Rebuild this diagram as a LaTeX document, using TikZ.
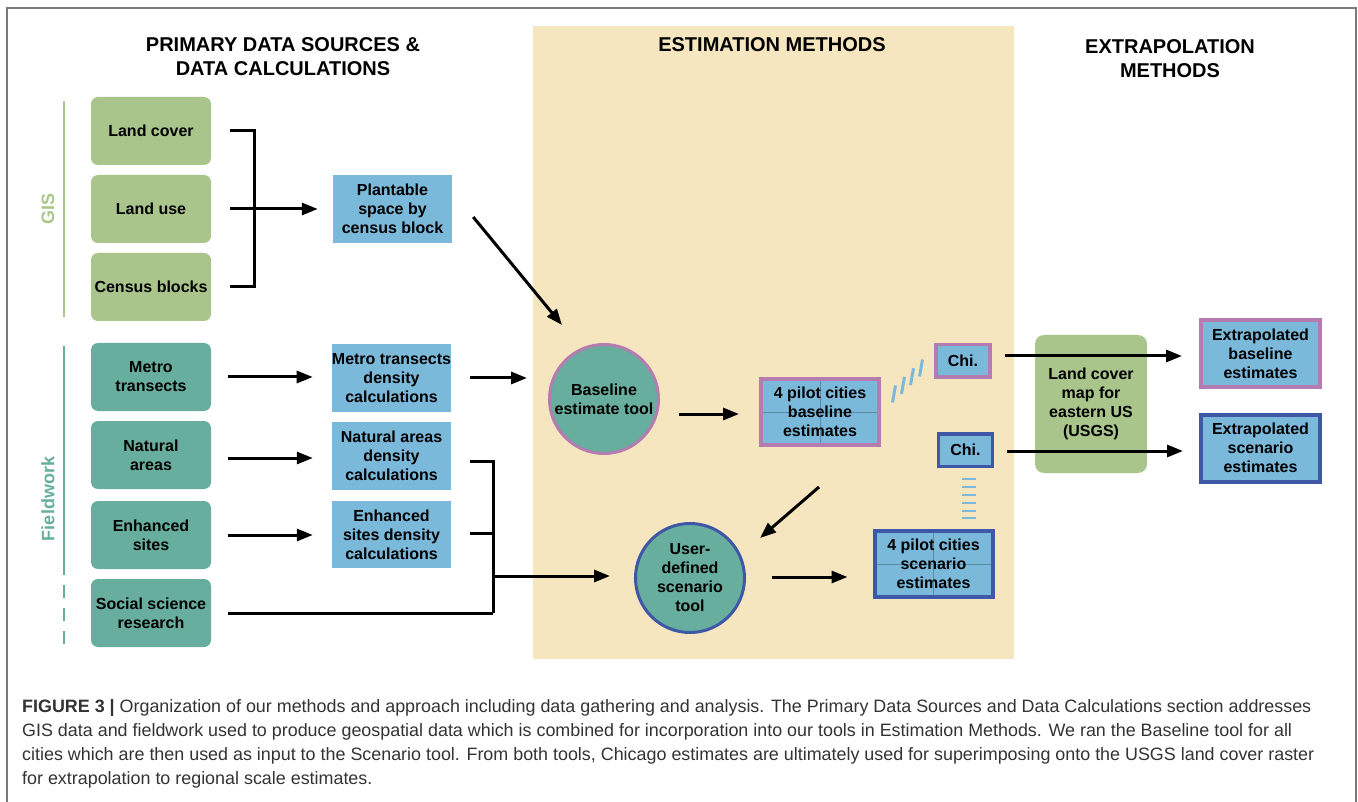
\documentclass[tikz,border=0pt]{standalone}
\usepackage{fontspec}
\setmainfont{Liberation Sans}
\usetikzlibrary{arrows.meta,calc}
\definecolor{gisgreen}{HTML}{A9C58B}
\definecolor{fteal}{HTML}{68AE9E}
\definecolor{sky}{HTML}{7BB9DB}
\definecolor{pinkb}{HTML}{B57CB1}
\definecolor{blueb}{HTML}{3E57A7}
\definecolor{beige}{HTML}{F6E6BF}
\definecolor{crossc}{HTML}{5F8AA3}
\definecolor{framec}{HTML}{7A7A7A}
\definecolor{capc}{HTML}{333333}
\newcommand{\myNodeFont}{\bfseries\fontsize{16}{19}\selectfont}
\newcommand{\myHeadFont}{\bfseries\fontsize{20}{24}\selectfont}
\newcommand{\myCapFont}{\fontsize{17.9}{24}\selectfont}
\tikzset{
  gbox/.style={rounded corners=7pt, fill=gisgreen, minimum width=120pt, minimum height=68pt, inner sep=0pt, align=center, font=\myNodeFont},
  tbox/.style={gbox, fill=fteal},
  bbox/.style={fill=sky, minimum width=119pt, minimum height=68pt, inner sep=0pt, align=center, font=\myNodeFont},
  crossed/.style={path picture={\draw[crossc, line width=1pt] (path picture bounding box.north) -- (path picture bounding box.south) (path picture bounding box.west) -- (path picture bounding box.east);}},
  pilot/.style={fill=sky, line width=4pt, minimum width=118pt, minimum height=66pt, inner sep=0pt, align=center, font=\myNodeFont, crossed},
  chibox/.style={fill=sky, line width=3.5pt, minimum width=54pt, minimum height=32.5pt, inner sep=0pt, align=center, font=\myNodeFont},
  exbox/.style={fill=sky, line width=4pt, minimum width=119pt, minimum height=67pt, inner sep=0pt, align=center, font=\myNodeFont},
  tool/.style={circle, fill=fteal, line width=3pt, minimum size=109pt, inner sep=0pt, align=center, font=\myNodeFont},
  heading/.style={align=center, font=\myHeadFont},
  conn/.style={line width=3pt, black},
  arr/.style={conn, -{Triangle[length=16pt,width=12pt]}},
  hatch/.style={sky, line width=3pt},
  captext/.style={anchor=base west, inner sep=0pt, font=\myCapFont, text=capc},
}
\begin{document}
\begin{tikzpicture}[x=1pt,y=-1pt]
\useasboundingbox (0,0) rectangle (1358,802);
\fill[white] (0,0) rectangle (1358,802);
\draw[framec, line width=1.5pt] (7,802) -- (7,8) -- (1356,8) -- (1356,802);
\fill[beige] (533,26) rectangle (1014,659);

% headings
\node[heading] (h1) at (283,57) {PRIMARY DATA SOURCES \&\\DATA CALCULATIONS};
\node[heading] (h2) at (772,45) {ESTIMATION METHODS};
\node[heading] (h3) at (1170,59) {EXTRAPOLATION\\METHODS};

% side labels
\draw[gisgreen, line width=2.5pt] (64,101) -- (64,317);
\node[rotate=90, text=gisgreen, font=\bfseries\fontsize{18}{20}\selectfont] (gisl) at (48,209) {GIS};
\draw[fteal, line width=2.5pt] (64,346) -- (64,575);
\draw[fteal, line width=2.5pt, dash pattern=on 13pt off 10pt] (64,585) -- (64,648);
\node[rotate=90, text=fteal, font=\bfseries\fontsize{18}{20}\selectfont] (fwl) at (48,499) {Fieldwork};

% GIS boxes
\node[gbox] (lc) at (151,131) {Land cover};
\node[gbox] (lu) at (151,209) {Land use};
\node[gbox] (cb) at (151,287) {Census blocks};
% fieldwork boxes
\node[tbox] (mt) at (151,377) {Metro\\transects};
\node[tbox] (na) at (151,455) {Natural\\areas};
\node[tbox] (es) at (151,535) {Enhanced\\sites};
\node[tbox] (ss) at (151,613) {Social science\\research};

% calculation boxes
\node[bbox] (pl) at (392.5,209) {Plantable\\space by\\census block};
\node[bbox] (md) at (391.5,378) {Metro transects\\density\\calculations};
\node[bbox] (nd) at (391.5,456) {Natural areas\\density\\calculations};
\node[bbox, minimum height=67pt] (ed) at (391.5,534.5) {Enhanced\\sites density\\calculations};

% tools
\node[tool, draw=pinkb] (bt) at (604,399) {Baseline\\estimate tool};
\node[tool, draw=blueb] (ut) at (690,578) {User-\\defined\\scenario\\tool};

% pilot boxes
\node[pilot, draw=pinkb] (pb) at (820,412) {4 pilot cities\\baseline\\estimates};
\node[pilot, draw=blueb] (ps) at (933.5,564) {4 pilot cities\\scenario\\estimates};
\node[chibox, draw=pinkb] (c1) at (963,361) {Chi.};
\node[chibox, draw=blueb] (c2) at (965.5,450) {Chi.};

% land cover map
\node[gbox, rounded corners=9pt, minimum width=112pt, minimum height=138pt] (lm) at (1091,404) {Land cover\\map for\\eastern US\\(USGS)};

% extrapolated
\node[exbox, draw=pinkb] (eb) at (1260.5,353.5) {Extrapolated\\baseline\\estimates};
\node[exbox, draw=blueb] (ex) at (1260.5,448) {Extrapolated\\scenario\\estimates};

% GIS bracket
\coordinate (gj) at (254,209);
\draw[conn] ([xshift=19pt]lc.east) -| (gj);
\draw[conn] ([xshift=19pt]cb.east) -| (gj);
\draw[arr] ([xshift=19pt]lu.east) -- ([xshift=-15pt]pl.west);

% fieldwork arrows
\draw[arr] ([xshift=17pt]mt.east) -- ([xshift=-19pt]md.west |- mt.east);
\draw[arr] ([xshift=17pt]na.east |- 0,458) -- ([xshift=-19pt]nd.west |- 0,458);
\draw[arr] ([xshift=17pt]es.east) -- ([xshift=-19pt]ed.west |- 0,535);

% to baseline tool
\draw[arr] ($(pl.east)+(21,8)$) -- ($(bt)+(-42,-74)$);
\draw[arr] ([xshift=19pt]md.east) -- ([xshift=-21pt]bt.west |- md.east);

% natural/enhanced/social bracket to scenario tool
\coordinate (nj) at (493,576);
\draw[conn] ($(nd.east)+(19,5)$) -| (493,613);
\draw[conn] ($(ed.east)+(19,-1.5)$) -- (493,533);
\draw[conn] ([xshift=17pt]ss.east) -- (493,613);
\draw[arr] (nj) -- ([xshift=-24pt]ut.west |- nj);

% estimation flows
\draw[arr] ($(bt.east)+(19,15)$) -- ($(pb.west)+(-20,2)$);
\draw[arr] ($(pb.south)+(-1,40)$) -- ($(ut)+(70,-40)$);
\draw[arr] ($(ut.east)+(26,-1)$) -- ($(ps.west)+(-25,13)$);

% hatch marks
\foreach \cx/\cy in {894/394, 903/385.3, 912/376.7, 921/368}
  \draw[hatch] (\cx-1.5,\cy+8.5) -- (\cx+1.5,\cy-8.5);
\foreach \yy in {479,487,495,503,511,518}
  \draw[sky, line width=2.5pt] (962,\yy) -- (976,\yy);

% extrapolation arrows
\draw[arr] ($(c1.east)+(13,-5)$) -- ($(eb.west |- c1.east)+(-17,-5)$);
\draw[arr] ($(c2.east)+(13,1)$) -- ($(ex.west |- c2.east)+(-16,1)$);

% caption
\node[captext] (cap1) at (22,712) {\textbf{FIGURE 3 |} Organization of our methods and approach including data gathering and analysis. The Primary Data Sources and Data Calculations section addresses};
\node[captext] (cap2) at (22,736) {GIS data and fieldwork used to produce geospatial data which is combined for incorporation into our tools in Estimation Methods. We ran the Baseline tool for all};
\node[captext] (cap3) at (22,760) {cities which are then used as input to the Scenario tool. From both tools, Chicago estimates are ultimately used for superimposing onto the USGS land cover raster};
\node[captext] (cap4) at (22,784) {for extrapolation to regional scale estimates.};
\end{tikzpicture}
\end{document}
